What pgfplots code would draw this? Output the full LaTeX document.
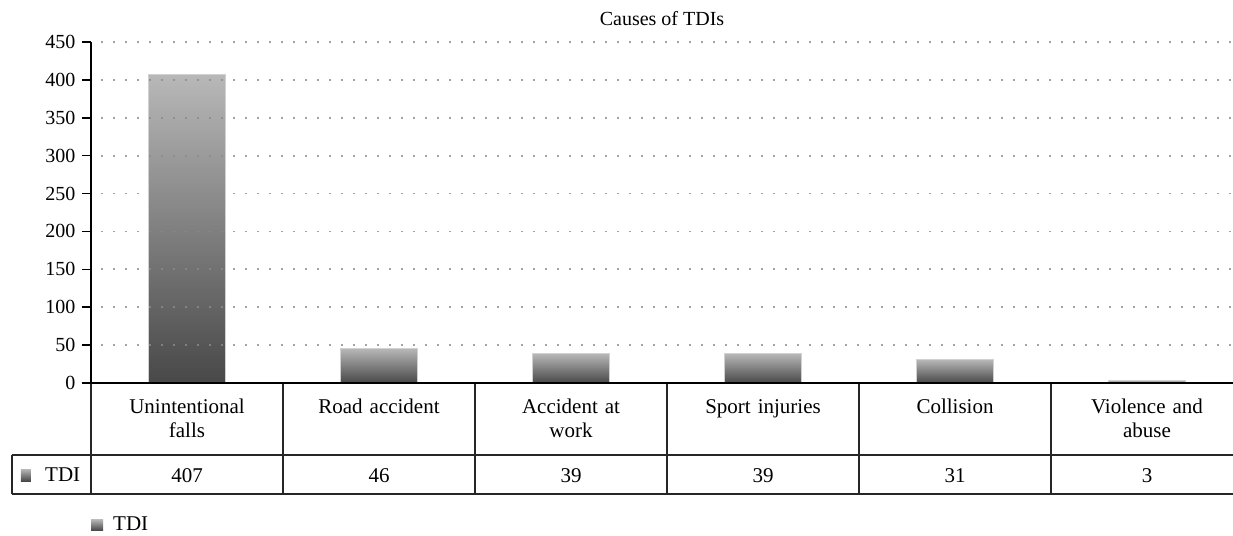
\documentclass[border=0pt]{standalone}
\usepackage{fontspec}
\setmainfont{Liberation Serif}
\usepackage{pgfplots}
\pgfplotsset{compat=1.18}
\usepackage{pgfplotstable}
\definecolor{bardark}{RGB}{72,72,72}
\definecolor{barlight}{RGB}{184,184,184}
\definecolor{griddot}{RGB}{140,140,140}
\pgfplotstableread{
idx value
0 407
1 46
2 39
3 39
4 31
5 3
}\tdidata
\begin{document}
\begin{tikzpicture}
\path[use as bounding box] (-91pt,-152pt) rectangle (1142pt,383pt);
\begin{axis}[
  at={(0,0)}, anchor=south west,
  scale only axis, width=1142pt, height=341pt,
  xmin=-0.5, xmax=5.4479, ymin=0, ymax=450,
  axis x line=bottom, axis y line=left,
  axis line style={line width=1.6pt, -},
  clip=false,
  axis on top,
  /pgf/number format/assume math mode=true,
  xtick={0,...,5},
  xticklabels={{Unintentional\\falls},{Road accident},{Accident at\\work},{Sport injuries},{Collision},{Violence and\\abuse}},
  x tick label style={font=\fontsize{21}{24}\selectfont, text width=184pt, align=center, anchor=base, yshift=-21pt},
  major x tick style={draw=none},
  ytick={0,50,...,450},
  y tick label style={font=\fontsize{20}{22}\selectfont, xshift=-3pt},
  major y tick style={line width=1.6pt, black},
  tick align=outside, major tick length=9pt,
  ymajorgrids,
  grid style={griddot, opacity=0.8, line width=1.7pt, dash pattern=on 1.7pt off 10.3pt, dash phase=1.7pt},
  extra x ticks={0,...,5},
  extra x tick labels={407,46,39,39,31,3},
  extra x tick style={grid=none, major tick length=0pt, tick label style={yshift=-78pt}},
  title={Causes of TDIs},
  title style={font=\fontsize{20}{22}\selectfont, at={(0.5,1)}, anchor=base, yshift=11pt},
  legend style={draw=none, fill=none, at={(axis description cs:0,-0.416)}, anchor=west, inner sep=0pt, font=\fontsize{21}{24}\selectfont},
  legend image code/.code={\fill[top color=barlight, bottom color=bardark, draw=none] (0pt,-5.5pt) rectangle (12pt,5.5pt); \path[draw=none, fill=none] (0pt,0pt) -- (20pt,0pt);},
]
\pgfplotsinvokeforeach{0,...,5}{
  \addplot[ybar, bar width=77pt, draw=black!18, line width=0.6pt, top color=barlight, bottom color=bardark, forget plot, restrict x to domain=#1:#1]
    table[x=idx, y=value]{\tdidata};
}
\addlegendimage{draw=none, fill=none}
\addlegendentry{TDI}
% data table grid
\pgfplotsinvokeforeach{-0.5,0.5,1.5,2.5,3.5,4.5}{
  \draw[line width=1.3pt, black!85] (axis cs:#1,0) -- ([yshift=-111pt]axis cs:#1,0);
}
\draw[line width=1.3pt, black!85] ([xshift=-79pt,yshift=-72pt]rel axis cs:0,0) -- ([xshift=30pt,yshift=-72pt]rel axis cs:1,0);
\draw[line width=1.3pt, black!85] ([xshift=-79pt,yshift=-111pt]rel axis cs:0,0) -- ([xshift=30pt,yshift=-111pt]rel axis cs:1,0);
\draw[line width=1.3pt, black!85] ([xshift=-79pt,yshift=-72pt]rel axis cs:0,0) -- ([xshift=-79pt,yshift=-111pt]rel axis cs:0,0);
\fill[top color=barlight, bottom color=bardark] ([xshift=-70pt,yshift=-98pt]rel axis cs:0,0) rectangle ([xshift=-60pt,yshift=-86pt]rel axis cs:0,0);
\node[anchor=base west, inner sep=0pt, font=\fontsize{21}{24}\selectfont] at ([xshift=-46pt,yshift=-98pt]rel axis cs:0,0) {TDI};
\end{axis}
\end{tikzpicture}
\end{document}
